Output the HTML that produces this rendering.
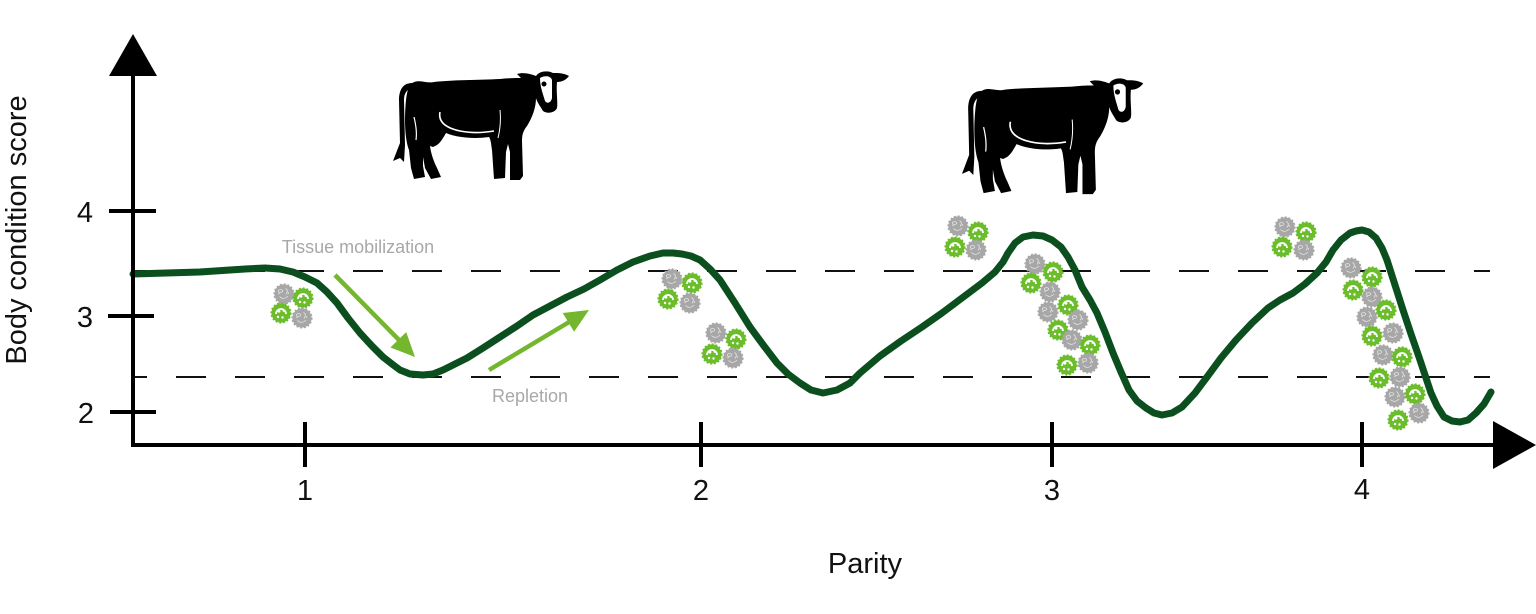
<!DOCTYPE html>
<html>
<head>
<meta charset="utf-8">
<style>
  html, body { margin: 0; padding: 0; background: #ffffff; }
  svg { display: block; }
  text { font-family: "Liberation Sans", "DejaVu Sans", sans-serif; }
</style>
</head>
<body>
<svg width="1536" height="614" viewBox="0 0 1536 614" xmlns="http://www.w3.org/2000/svg">
  <defs>
    <g id="gc">
      <circle r="9.6" fill="#a7a7a7"/>
      <circle r="9.8" fill="none" stroke="#a7a7a7" stroke-width="1.6" stroke-dasharray="1.9 1.9"/>
      <ellipse cx="-3.5" cy="-3" rx="2.2" ry="1.4" fill="none" stroke="#e4e4e4" stroke-width="0.8"/>
      <path d="M1.5 -5.5 q3.5 2 0.5 6" fill="none" stroke="#e4e4e4" stroke-width="0.8"/>
      <path d="M-4.5 2.5 q4 4 8.5 -0.5" fill="none" stroke="#e4e4e4" stroke-width="0.8"/>
      <circle cx="-5" cy="-0.5" r="0.7" fill="#e4e4e4"/>
      <circle cx="4.5" cy="-1" r="0.7" fill="#e4e4e4"/>
    </g>
    <g id="gr">
      <circle r="9.6" fill="#6cbd2c"/>
      <circle r="9.8" fill="none" stroke="#6cbd2c" stroke-width="1.6" stroke-dasharray="1.9 1.9"/>
      <path d="M-5 1 a5 5 0 0 1 10 0" fill="none" stroke="#ffffff" stroke-width="1.8"/>
      <circle cx="-2" cy="-1.8" r="1.4" fill="#ffffff"/>
      <circle cx="2.6" cy="-2.2" r="1.1" fill="#ffffff"/>
      <circle cx="-3" cy="4" r="1.2" fill="#ffffff"/>
      <circle cx="1.5" cy="4.5" r="1.2" fill="#ffffff"/>
    </g>
    <g id="cow">
      <path fill="#000000" d="M 411 84
        C 418 78, 426 84, 434 82
        C 450 80, 480 80, 500 79
        C 510 78, 516 78, 521 78
        L 517 74
        C 524 72, 530 74, 536 76
        C 539 71, 548 70, 553 73
        C 558 73, 564 73, 569 76
        C 566 80, 562 82, 557 82
        C 556 92, 558 102, 557 108
        C 555 113, 547 114, 543 111
        C 540 106, 537 102, 536 98
        C 536 108, 532 118, 527 126
        C 523 131, 522 135, 522 141
        L 523 176 L 520 180 L 510 180 L 510 152 L 508 144 L 506 152 L 505 178 L 494 179 L 492 150
        C 491 144, 491 140, 489 137
        C 475 139, 458 138, 446 133
        C 443 138, 441 142, 437 145
        L 433 147 L 430 146
        C 431 154, 434 162, 437 168
        L 441 177 L 431 179 L 425 168 L 423 157 L 423 166 L 425 177 L 414 179 L 411 168 L 409 150
        C 405 140, 404 120, 406 100
        C 407 92, 408 88, 411 84 Z"/>
      <path fill="#000000" d="M 412 83 C 403 83, 399 90, 399 100 L 400 143 L 393 161 L 400 158 L 404 162 L 405 145 L 404 100 C 404 93, 407 89, 414 87 Z"/>
      <path fill="#ffffff" d="M 540 78 C 545 75, 551 76, 552 80 L 552 98 C 551 103, 547 104, 545 101 C 543 94, 540 87, 540 78 Z"/>
      <circle cx="544" cy="84" r="2.5" fill="#000000"/>
      <path d="M 440 112 C 438 122, 446 128, 460 131 C 475 134, 488 132, 494 131" fill="none" stroke="#ffffff" stroke-width="1.6"/>
      <path d="M 414 117 C 416 125, 417 133, 416 140" fill="none" stroke="#ffffff" stroke-width="1.2"/>
      <path d="M 500 110 C 501 120, 500 130, 498 138" fill="none" stroke="#ffffff" stroke-width="1"/>
    </g>
  </defs>

  <!-- cows -->
  <use href="#cow"/>
  <g transform="translate(963,77) scale(1.03,1.065) translate(-394,-70)">
    <use href="#cow"/>
  </g>

  <!-- dashed reference lines -->
  <line x1="135" y1="271" x2="1490" y2="271" stroke="#111" stroke-width="2" stroke-dasharray="30 29" stroke-dashoffset="18"/>
  <line x1="135" y1="377" x2="1490" y2="377" stroke="#111" stroke-width="2" stroke-dasharray="30 29" stroke-dashoffset="18"/>

  <!-- cells -->
  <use href="#gc" x="284" y="294"/><use href="#gr" x="303" y="298"/><use href="#gr" x="281" y="313"/><use href="#gc" x="302" y="318"/>
  <use href="#gc" x="672" y="279"/><use href="#gr" x="692" y="283"/><use href="#gr" x="668" y="299"/><use href="#gc" x="690" y="303"/>
  <use href="#gc" x="716" y="333"/><use href="#gr" x="736" y="339"/><use href="#gr" x="712" y="354"/><use href="#gc" x="733" y="358"/>
  <use href="#gc" x="958" y="226"/><use href="#gr" x="978" y="232"/><use href="#gr" x="955" y="247"/><use href="#gc" x="976" y="250"/>

  <use href="#gc" x="1035" y="264"/><use href="#gr" x="1053" y="272"/><use href="#gr" x="1031" y="283"/><use href="#gc" x="1050" y="292"/>
  <use href="#gr" x="1068" y="305"/><use href="#gc" x="1048" y="312"/><use href="#gc" x="1078" y="320"/><use href="#gr" x="1058" y="330"/>
  <use href="#gc" x="1072" y="340"/><use href="#gr" x="1090" y="345"/><use href="#gr" x="1067" y="365"/><use href="#gc" x="1088" y="363"/>

  <use href="#gc" x="1285" y="227"/><use href="#gr" x="1306" y="232"/><use href="#gr" x="1282" y="247"/><use href="#gc" x="1304" y="250"/>

  <use href="#gc" x="1351" y="268"/><use href="#gr" x="1372" y="277"/><use href="#gr" x="1353" y="290"/><use href="#gc" x="1372" y="297"/>
  <use href="#gr" x="1386" y="310"/><use href="#gc" x="1367" y="317"/><use href="#gr" x="1372" y="336"/><use href="#gc" x="1393" y="333"/>
  <use href="#gc" x="1383" y="355"/><use href="#gr" x="1402" y="357"/><use href="#gr" x="1379" y="378"/><use href="#gc" x="1400" y="377"/>
  <use href="#gc" x="1395" y="397"/><use href="#gr" x="1415" y="394"/><use href="#gr" x="1398" y="420"/><use href="#gc" x="1419" y="413"/>

  <!-- green arrows -->
  <line x1="335" y1="275" x2="400" y2="341" stroke="#74b72e" stroke-width="4.5"/>
  <polygon points="415,357 406.2,332.1 390.4,347.5" fill="#74b72e"/>
  <line x1="489" y1="370" x2="570" y2="321.5" stroke="#74b72e" stroke-width="4.5"/>
  <polygon points="589,310 574.1,331.8 562.7,313" fill="#74b72e"/>

  <!-- BCS curve -->
  <polyline fill="none" stroke="#0b4f1f" stroke-width="7" stroke-linejoin="round" stroke-linecap="round"
    points="133,274 200,272 245,269 265,268 280,269 293,272 305,277 317,283 327,292 337,303 348,318 360,333 372,346 383,357 392,364 400,370 410,374 423,375 433,374 443,370 455,364 467,358 483,348 500,337 517,326 533,315 550,306 567,297 584,289 600,280 617,270 633,262 650,256 663,253 673,253 682,254 691,256 700,260 710,269 720,280 735,303 750,327 764,346 777,363 788,374 800,383 811,390 823,393 837,390 850,383 860,373 880,356 901,341 922,327 942,313 962,298 982,283 995,272 1003,262 1008,253 1015,243 1023,237 1033,235 1043,236 1052,240 1061,247 1068,257 1075,270 1082,287 1090,300 1097,313 1105,332 1113,353 1121,372 1129,390 1137,401 1146,408 1154,413 1162,415 1172,413 1182,407 1195,393 1207,377 1221,358 1236,340 1252,323 1268,308 1280,300 1293,293 1305,284 1317,273 1326,262 1333,250 1341,240 1350,233 1356,231 1362,230 1369,232 1376,238 1382,248 1387,260 1395,285 1403,310 1411,334 1419,357 1425,375 1431,393 1437,406 1444,417 1452,421 1460,422 1468,420 1476,413 1484,404 1491,392"/>

  <!-- axes -->
  <line x1="133" y1="72" x2="133" y2="447" stroke="#000" stroke-width="4"/>
  <polygon points="133,34 157,76 109,76" fill="#000"/>
  <line x1="131" y1="445" x2="1500" y2="445" stroke="#000" stroke-width="4"/>
  <polygon points="1536,445 1493,421 1493,469" fill="#000"/>

  <!-- y ticks -->
  <line x1="109" y1="211" x2="156" y2="211" stroke="#000" stroke-width="4"/>
  <line x1="108" y1="316" x2="154" y2="316" stroke="#000" stroke-width="4"/>
  <line x1="110" y1="412" x2="156" y2="412" stroke="#000" stroke-width="4"/>
  <!-- x ticks -->
  <line x1="305" y1="422" x2="305" y2="467" stroke="#000" stroke-width="4"/>
  <line x1="701" y1="422" x2="701" y2="467" stroke="#000" stroke-width="4"/>
  <line x1="1052" y1="422" x2="1052" y2="467" stroke="#000" stroke-width="4"/>
  <line x1="1362" y1="422" x2="1362" y2="467" stroke="#000" stroke-width="4"/>

  <!-- tick labels -->
  <g font-size="29" fill="#111" text-anchor="middle">
    <text x="85" y="222">4</text>
    <text x="85" y="327">3</text>
    <text x="86" y="423">2</text>
    <text x="305" y="500">1</text>
    <text x="701" y="500">2</text>
    <text x="1052" y="500">3</text>
    <text x="1362" y="499">4</text>
  </g>

  <!-- axis titles -->
  <text x="865" y="573" font-size="29" fill="#111" text-anchor="middle">Parity</text>
  <text transform="translate(26,230) rotate(-90)" font-size="29" fill="#111" text-anchor="middle">Body condition score</text>

  <!-- annotations -->
  <text x="358" y="253" font-size="18" fill="#a8a8a8" text-anchor="middle">Tissue mobilization</text>
  <text x="530" y="402" font-size="18" fill="#a8a8a8" text-anchor="middle">Repletion</text>
</svg>
</body>
</html>
